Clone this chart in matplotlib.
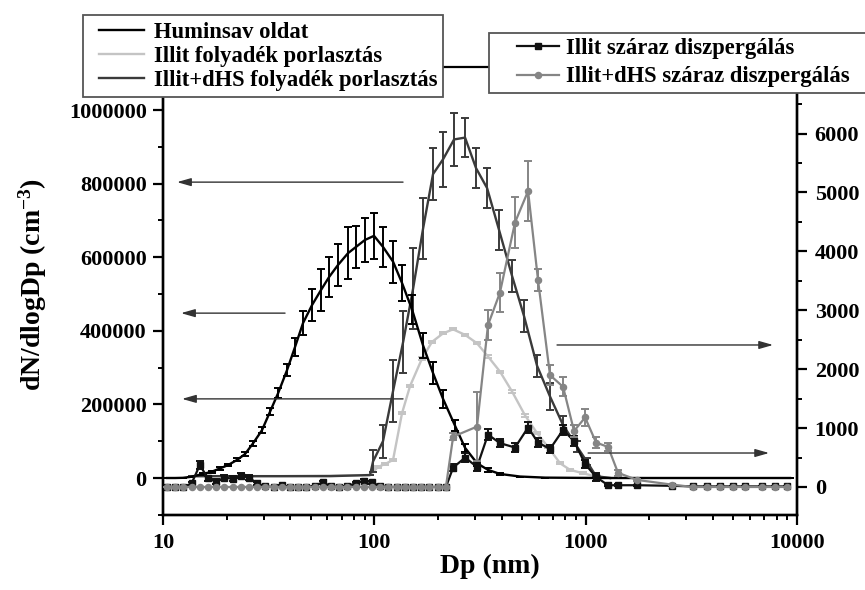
import matplotlib
matplotlib.use("Agg")
import matplotlib.pyplot as plt
from matplotlib.ticker import FixedLocator, MultipleLocator, LogLocator, NullFormatter
from matplotlib.patches import Rectangle
from matplotlib.lines import Line2D

plt.rcParams['font.family'] = ['Liberation Serif', 'DejaVu Serif']
plt.rcParams['font.weight'] = 'bold'
plt.rcParams['mathtext.default'] = 'regular'

# ---------------- data ----------------
# Huminsav oldat (left axis)
hum_dp = [10.44, 11.40, 12.43, 13.5, 15.47, 17.0, 18.61, 20.30, 22.39, 24.44, 26.66, 29.41,
          32.09, 35.02, 38.62, 42.14, 45.98, 50.73, 55.95, 61.05, 67.33, 75.08, 81.92, 90.36,
          99.68, 109.9, 122.6, 135.2, 150.8, 170.1, 189.6, 211.4, 240.9, 268.7, 306.3, 345.2,
          393.4, 489.3, 642.6, 1170, 3478, 9275]
hum_val = [0, 0, 500, 3000, 11000, 17000, 26000, 35000, 49000, 65000, 94000, 130000,
           180000, 230000, 293000, 356000, 421000, 470000, 511000, 546000, 579000, 611000, 628000, 647000,
           658000, 628000, 588000, 530000, 458000, 360000, 285000, 215000, 142000, 82000, 40000, 22000,
           11000, 4000, 1000, 0, 0, 0]
hum_err = [0, 0, 0, 0, 2000, 2500, 3000, 3500, 4000, 5000, 6000, 8000,
           10000, 13600, 16000, 25000, 32000, 43000, 57000, 54000, 57000, 70000, 57000, 60000,
           63000, 55000, 57000, 50000, 39000, 35000, 30000, 25000, 15000, 10000, 7000, 5000,
           3000, 0, 0, 0, 0, 0]

# Illit folyadek porlasztas (left axis)
ilf_dp = [13.72, 35.79, 95.43, 104.1, 112.4, 122.6, 135.2, 147.6, 168.2, 187.6, 211.4, 235.8,
          268.7, 306.3, 345.2, 393.4, 448.5, 516.7, 588.8, 663.9, 756.8, 843.9, 971.9, 1132, 1305]
ilf_val = [5000, 5000, 8000, 30000, 38000, 49000, 176000, 250000, 325000, 370000, 393000, 404000,
           389000, 366000, 330000, 289000, 235000, 170000, 122000, 84000, 40000, 22000, 13000, 3000, 0]
ilf_err = [0, 0, 0, 3000, 3000, 3000, 3000, 3000, 3000, 3000, 3000, 3000,
           3000, 3000, 3000, 3000, 3000, 3000, 3000, 3000, 3000, 3000, 3000, 3000, 0]

# Illit+dHS folyadek porlasztas (left axis)
idf_dp = [13.72, 20.75, 35.79, 61.71, 95.43, 98.6, 109.9, 122.6, 136.9, 152.5, 170.1, 189.6,
          211.4, 238.4, 268.7, 302.9, 341.5, 389.2, 448.5, 510.9, 588.8, 678.5, 781.6, 910.8,
          1015, 1120, 1305]
idf_val = [5000, 5000, 5000, 5000, 8000, 45000, 100000, 236000, 370000, 514000, 678000, 826000,
           866000, 920000, 925000, 842000, 788000, 674000, 549000, 440000, 305000, 221000, 144000, 85000,
           44000, 5000, 0]
idf_err = [0, 0, 0, 0, 0, 30000, 45000, 85000, 85000, 110000, 82000, 70000,
           75000, 73000, 54000, 54000, 54000, 54000, 43000, 43000, 30000, 37000, 25000, 15000,
           10000, 3000, 0]

# Illit szaraz diszpergalas (right axis)
isz_dp = [10.44, 11.42, 12.48, 13.65, 14.93, 16.32, 17.85, 19.52, 21.34, 23.34, 25.52, 27.91,
          30.52, 33.37, 36.49, 39.90, 43.63, 47.71, 52.17, 57.05, 62.39, 68.22, 74.60, 81.58,
          89.21, 97.55, 106.7, 116.6, 127.6, 139.5, 152.5, 166.8, 182.4, 199.5, 218.1,
          236, 269, 306, 345, 393, 463, 534, 595, 678, 782, 881, 994, 1120, 1277, 1423, 1751,
          2564, 3224, 3754, 4326, 4985, 5680, 6837, 7877, 8978]
isz_val = [0, 0, 0, 60, 370, 150, 90, 160, 140, 190, 160, 60,
           10, 0, 30, 0, 0, 0, 20, 80, 10, 0, 20, 60,
           110, 80, 10, 0, 0, 0, 0, 0, 0, 0, 0,
           330, 500, 340, 890, 745, 670, 1010, 755, 645, 970, 780, 390, 170, 30, 30, 30,
           20, 10, 10, 10, 10, 10, 10, 10, 10]
isz_err = [0, 0, 0, 30, 70, 40, 40, 40, 40, 40, 40, 30,
           0, 0, 0, 0, 0, 0, 0, 30, 0, 0, 0, 30,
           30, 30, 0, 0, 0, 0, 0, 0, 0, 0, 0,
           60, 70, 60, 90, 70, 70, 100, 70, 70, 90, 80, 70, 60, 20, 20, 10,
           0, 0, 0, 0, 0, 0, 0, 0, 0]

# Illit+dHS szaraz diszpergalas (right axis)
idsz_dp = [10.44, 11.42, 12.48, 13.65, 14.93, 16.32, 17.85, 19.52, 21.34, 23.34, 25.52, 27.91,
           30.52, 33.37, 36.49, 39.90, 43.63, 47.71, 52.17, 57.05, 62.39, 68.22, 74.60, 81.58,
           89.21, 97.55, 106.7, 116.6, 127.6, 139.5, 152.5, 166.8, 182.4, 199.5, 218.1,
           236, 306, 345, 393, 463, 534, 595, 678, 782, 881, 994, 1120, 1277, 1423, 1751,
           2564, 3224, 3754, 4326, 4985, 5680, 6837, 7877, 8978]
idsz_val = [0] * 35 + [855, 1025, 2750, 3300, 4490, 5025, 3515, 1900, 1700, 950, 1180, 755, 680, 240, 120,
                       40, 0, 0, 0, 0, 0, 0, 0, 0]
idsz_err = [0] * 35 + [60, 580, 250, 330, 440, 510, 185, 170, 160, 100, 140, 90, 70, 50, 20,
                       0, 0, 0, 0, 0, 0, 0, 0, 0]

labels_left = ['Huminsav oldat', 'Illit folyadék porlasztás', 'Illit+dHS folyadék porlasztás']
labels_right = ['Illit száraz diszpergálás', 'Illit+dHS száraz diszpergálás']

x_ticks = [10, 100, 1000, 10000]
x_tick_labels = ['10', '100', '1000', '10000']
left_ticks = [0, 200000, 400000, 600000, 800000, 1000000]
right_ticks = [0, 1000, 2000, 3000, 4000, 5000, 6000]

# arrows: (start_dp, tip_dp, value)
left_arrows = [(136.7, 11.65, 804000), (37.8, 12.17, 448000), (136.7, 12.30, 215000)]
right_arrows = [(732, 7707, 2411), (1027, 7380, 577)]

# ---------------- figure ----------------
W, H = 865, 590
fig = plt.figure(figsize=(W / 100, H / 100), dpi=100)
ax = fig.add_axes([163 / W, 75 / H, 634 / W, 422 / H])
ax2 = ax.twinx()

c_hum = '#000000'
c_ilf = '#c4c4c4'
c_idf = '#3a3a3a'
c_isz = '#111111'
c_idsz = '#858585'

def eb(a, x, y, e, color, marker=None, ms=0, z=2, lw=1.7):
    return a.errorbar(x, y, yerr=e, color=color, ecolor=color, lw=lw, elinewidth=1.4,
                      capsize=3.2, capthick=1.4, marker=marker, ms=ms, mec=color, mfc=color,
                      zorder=z)

h_ilf = eb(ax, ilf_dp, ilf_val, ilf_err, c_ilf, z=2)
h_idf = eb(ax, idf_dp, idf_val, idf_err, c_idf, z=3)
h_hum = eb(ax, hum_dp, hum_val, hum_err, c_hum, z=4)

h_isz = eb(ax2, isz_dp, isz_val, isz_err, c_isz, marker='s', ms=4.4, z=3, lw=1.6)
h_idsz = eb(ax2, idsz_dp, idsz_val, idsz_err, c_idsz, marker='o', ms=4.4, z=4, lw=1.6)

ax.set_xscale('log')
ax.set_xlim(10, 10000)
ax.set_ylim(-100543, 1046196)
ax2.set_ylim(-475.4, 6689)

ax.xaxis.set_major_locator(FixedLocator(x_ticks))
ax.set_xticklabels(x_tick_labels)
ax.xaxis.set_minor_locator(LogLocator(base=10, subs=[2, 3, 4, 5, 6, 7, 8, 9]))
ax.xaxis.set_minor_formatter(NullFormatter())
ax.set_yticks(left_ticks)
ax.set_yticklabels([str(v) for v in left_ticks])
ax.yaxis.set_minor_locator(MultipleLocator(100000))
ax2.set_yticks(right_ticks)
ax2.set_yticklabels([str(v) for v in right_ticks])
ax2.yaxis.set_minor_locator(MultipleLocator(500))

for a in (ax, ax2):
    a.spines['top'].set_visible(False)
    for s in a.spines.values():
        s.set_linewidth(1.7)
    a.tick_params(which='major', direction='out', length=7.2, width=1.6, labelsize=16,
                  colors='black')
    a.tick_params(which='minor', direction='out', length=3.8, width=1.4)
ax.tick_params(axis='y', pad=4.5)
ax.tick_params(axis='x', pad=5.5)
ax2.tick_params(axis='y', pad=5.5)

ax.set_ylabel('dN/dlogDp (cm$^{-3}$)', fontsize=20, fontweight='bold', va='center')
ax.yaxis.set_label_coords(-0.205, 0.545)
ax.set_xlabel('Dp (nm)', fontsize=20, fontweight='bold', va='center')
ax.xaxis.set_label_coords(0.516, -0.121)

arrow_style = dict(arrowstyle='-|>,head_length=0.7,head_width=0.2', color='#333333', lw=1.0,
                   mutation_scale=12, shrinkA=0, shrinkB=0)
for x0, x1, yv in left_arrows:
    ax.annotate('', xy=(x1, yv), xytext=(x0, yv), arrowprops=arrow_style, zorder=6)
for x0, x1, yv in right_arrows:
    ax2.annotate('', xy=(x1, yv), xytext=(x0, yv), arrowprops=arrow_style, zorder=6)

# legend frames
fig.add_artist(Rectangle((83 / W, 1 - 97 / H), 360 / W, 82 / H, transform=fig.transFigure,
                         facecolor='white', edgecolor='#555555', lw=1.3, zorder=10))
fig.add_artist(Rectangle((489 / W, 1 - 93 / H), 400 / W, 60 / H, transform=fig.transFigure,
                         facecolor='white', edgecolor='#555555', lw=1.3, zorder=10))
fig.add_artist(Line2D([443 / W, 489 / W], [1 - 67 / H, 1 - 67 / H], transform=fig.transFigure,
                      color='black', lw=1.6, zorder=9))

leg1 = fig.legend([h_hum[0], h_ilf[0], h_idf[0]], labels_left, loc='upper left',
                  bbox_to_anchor=(99 / W, 1 - 22 / H), frameon=False, borderpad=0,
                  borderaxespad=0, handlelength=2.0, handletextpad=0.42, labelspacing=0.14,
                  prop={'family': 'Liberation Serif', 'weight': 'bold', 'size': 16.3})
leg1.set_zorder(11)
leg2 = fig.legend([h_isz[0], h_idsz[0]], labels_right, loc='upper left',
                  bbox_to_anchor=(517 / W, 1 - 38 / H), frameon=False, borderpad=0,
                  borderaxespad=0, handlelength=1.85, handletextpad=0.33, labelspacing=0.33,
                  numpoints=1,
                  prop={'family': 'Liberation Serif', 'weight': 'bold', 'size': 16.3})
leg2.set_zorder(11)

fig.savefig('out.png', dpi=100)
